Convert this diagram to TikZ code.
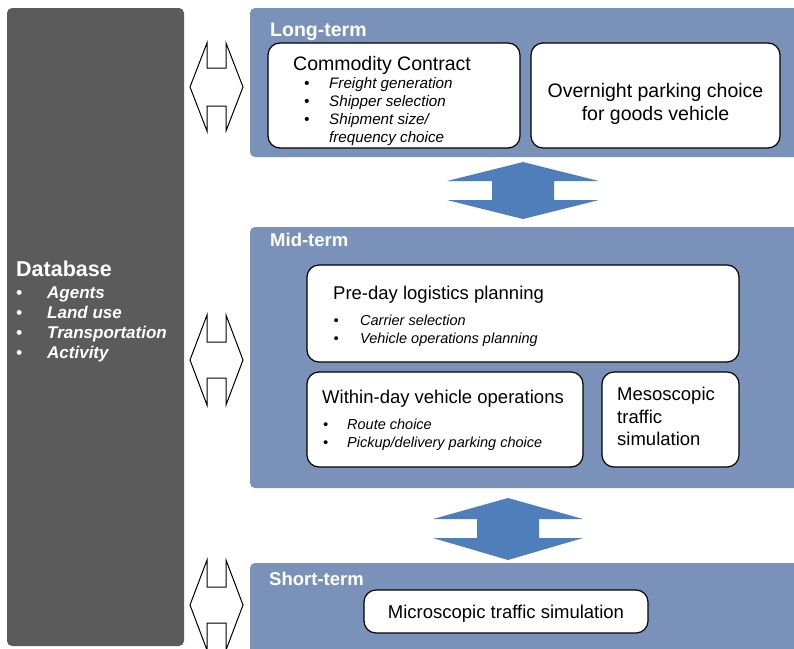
\documentclass[tikz,border=0pt]{standalone}
\usepackage{fontspec}
\setmainfont{Liberation Sans}
\definecolor{panelblue}{HTML}{7A92B9}
\definecolor{arrowblue}{HTML}{4F7EBB}
\definecolor{darkgrey}{HTML}{5B5B5B}
\newcommand{\figtermfont}{\fontsize{18.5}{22}\selectfont\bfseries}
\newcommand{\figbodyfont}{\fontsize{18.5}{22}\selectfont}
\newcommand{\figitemfont}{\fontsize{14.5}{18}\selectfont\itshape}
\newcommand{\figlongbodyfont}{\fontsize{19.5}{23}\selectfont}
\newcommand{\figlongitemfont}{\fontsize{15.2}{18}\selectfont\itshape}
\newcommand{\figdbfont}{\fontsize{21.5}{26}\selectfont\bfseries}
\newcommand{\figdbitemfont}{\fontsize{17}{20}\selectfont\bfseries\itshape}
\newcommand{\dotitem}[2]{\makebox[#1][l]{\textbullet}#2}

\begin{document}
\begin{tikzpicture}[x=1pt,y=-1pt,
    panel/.style={fill=panelblue,rounded corners=5pt,inner sep=0pt},
    database/.style={fill=darkgrey,rounded corners=5pt,inner sep=0pt},
    whitebox/.style={draw=black,line width=1.2pt,fill=white,rounded corners=12pt,inner sep=0pt},
    termlabel/.style={text=white,font=\figtermfont,anchor=base west,inner sep=0pt},
    boxtext/.style={font=\figbodyfont,anchor=base west,inner sep=0pt},
    itemtext/.style={font=\figitemfont,anchor=base west,inner sep=0pt},
    dbitem/.style={text=white,font=\figdbitemfont,anchor=base west,inner sep=0pt},
    sidearrow/.style={draw=black,line width=1pt,fill=white,line join=miter},
    bluearrow/.style={fill=arrowblue}]
      \useasboundingbox (0,0) rectangle (794,648);
      \clip (0,0) rectangle (794,648);
      % database column
      \path
        (95.5,327) node[database,minimum width=177,minimum height=638] (db) {}
        (16,276) node[text=white,font=\figdbfont,anchor=base west,inner sep=0pt] (dbtitle) {Database}
        (16,298) node[dbitem] (db1) {\dotitem{31pt}{Agents}}
        (16,318) node[dbitem] (db2) {\dotitem{31pt}{Land use}}
        (16,338) node[dbitem] (db3) {\dotitem{31pt}{Transportation}}
        (16,358) node[dbitem] (db4) {\dotitem{31pt}{Activity}};
      % panels
      \path
        (525,82.5) node[panel,minimum width=550,minimum height=149] (long) {}
        (525,357.5) node[panel,minimum width=550,minimum height=261] (mid) {}
        (525,612) node[panel,minimum width=550,minimum height=98] (short) {}
        (270,36) node[termlabel,font=\fontsize{19.5}{23}\selectfont\bfseries] (longlabel) {Long-term}
        (270,246) node[termlabel] (midlabel) {Mid-term}
        (269,585) node[termlabel] (shortlabel) {Short-term};
      % long-term boxes
      \path
        (394,95.5) node[whitebox,minimum width=252,minimum height=105] (commodity) {}
        (655.5,95.5) node[whitebox,minimum width=249,minimum height=105] (overnight) {}
        (293,70) node[boxtext,font=\figlongbodyfont] (cctitle) {Commodity Contract}
        (304,88) node[itemtext,font=\figlongitemfont] (cc1) {\dotitem{25pt}{Freight generation}}
        (304,106.5) node[itemtext,font=\figlongitemfont] (cc2) {\dotitem{25pt}{Shipper selection}}
        (304,124.5) node[itemtext,font=\figlongitemfont] (cc3) {\dotitem{25pt}{Shipment size/}}
        (329,142.5) node[itemtext,font=\figlongitemfont] (cc4) {frequency choice}
        (655.5,97) node[font=\figlongbodyfont,anchor=base,inner sep=0pt] (on1) {Overnight parking choice}
        (655.5,120) node[font=\figlongbodyfont,anchor=base,inner sep=0pt] (on2) {for goods vehicle};
      % mid-term boxes
      \path
        (523,313.5) node[whitebox,minimum width=432,minimum height=97] (preday) {}
        (445,419.5) node[whitebox,minimum width=276,minimum height=95] (withinday) {}
        (670.5,419.5) node[whitebox,minimum width=137,minimum height=95] (meso) {}
        (333,299) node[boxtext] (pdtitle) {Pre-day logistics planning}
        (333.5,325) node[itemtext] (pd1) {\dotitem{26.5pt}{Carrier selection}}
        (333.5,343) node[itemtext] (pd2) {\dotitem{26.5pt}{Vehicle operations planning}}
        (322,403) node[boxtext] (wdtitle) {Within-day vehicle operations}
        (323,429) node[itemtext] (wd1) {\dotitem{24pt}{Route choice}}
        (323,447) node[itemtext] (wd2) {\dotitem{24pt}{Pickup/delivery parking choice}}
        (617,400) node[boxtext] (ms1) {Mesoscopic}
        (617,423) node[boxtext] (ms2) {traffic}
        (617,445) node[boxtext] (ms3) {simulation};
      % short-term box
      \path
        (506,611.5) node[whitebox,minimum width=284,minimum height=43] (micro) {}
        (506,618) node[font=\figbodyfont,anchor=base,inner sep=0pt] (microtext) {Microscopic traffic simulation};
      % arrows to the database
      \draw[sidearrow] (190,87) -- ++(17,-44) -- ++(0,25) -- ++(19,0) -- ++(0,-25) -- ++(17,44)
        -- ++(-17,44) -- ++(0,-25) -- ++(-19,0) -- ++(0,25) -- cycle;
      \draw[sidearrow] (190,360) -- ++(17,-45) -- ++(0,27) -- ++(19,0) -- ++(0,-27) -- ++(17,45)
        -- ++(-17,45) -- ++(0,-27) -- ++(-19,0) -- ++(0,27) -- cycle;
      \draw[sidearrow] (190,605) -- ++(17,-45) -- ++(0,27) -- ++(19,0) -- ++(0,-27) -- ++(17,45)
        -- ++(-17,45) -- ++(0,-27) -- ++(-19,0) -- ++(0,27) -- cycle;
      % arrows between the levels
      \fill[bluearrow] (523,162) -- ++(-76,19) -- ++(45,0) -- ++(0,19) -- ++(-45,0) -- ++(76,19)
        -- ++(76,-19) -- ++(-45,0) -- ++(0,-19) -- ++(45,0) -- cycle;
      \fill[bluearrow] (508,498) -- ++(-75,21) -- ++(44,0) -- ++(0,19) -- ++(-44,0) -- ++(75,22)
        -- ++(75,-22) -- ++(-44,0) -- ++(0,-19) -- ++(44,0) -- cycle;
    \end{tikzpicture}
\end{document}
